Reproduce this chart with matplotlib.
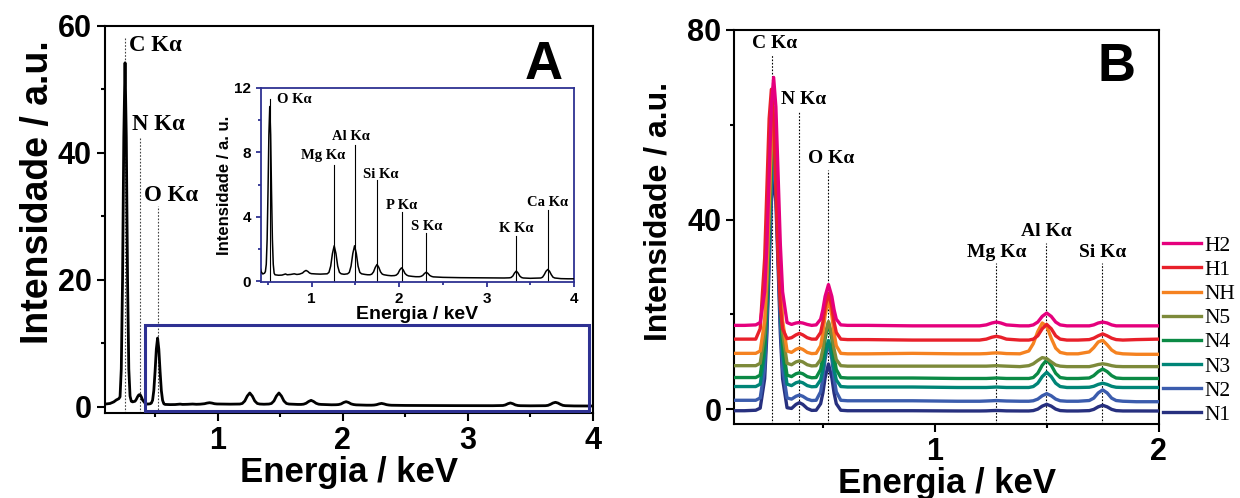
import matplotlib

matplotlib.use("Agg")
import matplotlib.pyplot as plt
from matplotlib.patches import Rectangle
from matplotlib.ticker import MultipleLocator
from matplotlib.lines import Line2D

plt.rcParams["font.family"] = ["Liberation Sans", "DejaVu Sans"]
plt.rcParams["font.weight"] = "bold"
plt.rcParams["axes.labelweight"] = "bold"
SERIF = ["Liberation Serif", "DejaVu Serif"]

# ---------------- panel A: EDS spectrum (main + inset use the same data)
energy_a = [
    0.10, 0.14, 0.17, 0.19, 0.21, 0.22, 0.23, 0.24, 0.25, 0.26,
    0.27, 0.28, 0.29, 0.30, 0.31, 0.32, 0.34, 0.35, 0.36, 0.37,
    0.38, 0.39, 0.40, 0.42, 0.44, 0.46, 0.47, 0.48, 0.49, 0.50,
    0.51, 0.52, 0.53, 0.54, 0.55, 0.56, 0.57, 0.58, 0.62, 0.66,
    0.70, 0.72, 0.76, 0.80, 0.83, 0.86, 0.875, 0.895, 0.915, 0.935,
    0.955, 0.975, 0.995, 1.05, 1.10, 1.15, 1.177, 1.197, 1.217, 1.237,
    1.257, 1.277, 1.297, 1.317, 1.337, 1.37, 1.41, 1.43, 1.45, 1.47,
    1.49, 1.51, 1.53, 1.55, 1.57, 1.61, 1.64, 1.667, 1.687, 1.707,
    1.727, 1.747, 1.767, 1.787, 1.807, 1.827, 1.87, 1.91, 1.947, 1.967,
    1.987, 2.007, 2.027, 2.047, 2.067, 2.087, 2.107, 2.15, 2.19, 2.23,
    2.25, 2.27, 2.29, 2.31, 2.33, 2.35, 2.37, 2.39, 2.5, 2.7,
    2.9, 3.1, 3.2, 3.26, 3.28, 3.30, 3.32, 3.34, 3.36, 3.38,
    3.40, 3.42, 3.5, 3.58, 3.62, 3.64, 3.66, 3.68, 3.70, 3.72,
    3.74, 3.76, 3.78, 3.85, 3.93, 4.0,
]
counts_a = [
    0.45, 0.55, 0.8, 1.1, 1.3, 1.6, 6.0, 20.0, 42.5, 54.2,
    42.5, 20.0, 6.0, 1.7, 0.9, 0.8, 0.9, 1.2, 1.6, 1.9,
    1.95, 1.6, 1.1, 0.6, 0.45, 0.5, 0.6, 1.05, 2.6, 5.6,
    9.1, 10.85, 9.1, 5.6, 2.6, 1.05, 0.5, 0.4, 0.37, 0.38,
    0.45, 0.4, 0.42, 0.46, 0.42, 0.44, 0.47, 0.51, 0.61, 0.67,
    0.61, 0.51, 0.47, 0.45, 0.44, 0.45, 0.46, 0.55, 0.94, 1.72,
    2.2, 1.72, 0.94, 0.55, 0.46, 0.43, 0.46, 0.55, 0.94, 1.72,
    2.2, 1.72, 0.94, 0.55, 0.46, 0.42, 0.4, 0.4, 0.44, 0.58,
    0.86, 1.04, 0.86, 0.58, 0.44, 0.4, 0.36, 0.34, 0.35, 0.38,
    0.48, 0.7, 0.83, 0.7, 0.48, 0.38, 0.33, 0.3, 0.28, 0.28,
    0.3, 0.36, 0.48, 0.56, 0.48, 0.36, 0.3, 0.27, 0.24, 0.22,
    0.21, 0.2, 0.2, 0.21, 0.23, 0.32, 0.51, 0.63, 0.51, 0.32,
    0.23, 0.2, 0.18, 0.19, 0.2, 0.25, 0.41, 0.62, 0.73, 0.62,
    0.41, 0.25, 0.2, 0.16, 0.15, 0.15,
]

# main panel A peak markers
lines_a_labels = ["C K\u03b1", "N K\u03b1", "O K\u03b1"]
lines_a_x = [0.26, 0.38, 0.52]
lines_a_top = [58.3, 42.4, 31.7]

# inset peak markers
lines_in_labels = ["O K\u03b1", "Mg K\u03b1", "Al K\u03b1", "Si K\u03b1",
                   "P K\u03b1", "S K\u03b1", "K K\u03b1", "Ca K\u03b1"]
lines_in_x = [0.521, 1.257, 1.49, 1.747, 2.027, 2.31, 3.34, 3.70]
lines_in_top = [11.3, 7.2, 8.45, 6.3, 4.3, 3.0, 2.8, 4.45]

# ---------------- panel B: spectra of the eight samples (stacked)
energy_b = [
    0.105, 0.15, 0.20, 0.22, 0.24, 0.25, 0.26, 0.27, 0.28, 0.29,
    0.30, 0.31, 0.32, 0.34, 0.36, 0.38, 0.395, 0.41, 0.43, 0.45,
    0.47, 0.49, 0.50, 0.51, 0.525, 0.54, 0.55, 0.56, 0.58, 0.61,
    0.70, 0.90, 1.10, 1.20, 1.23, 1.255, 1.275, 1.295, 1.32, 1.38,
    1.42, 1.44, 1.46, 1.48, 1.50, 1.52, 1.54, 1.56, 1.59, 1.64,
    1.69, 1.71, 1.73, 1.75, 1.77, 1.79, 1.81, 1.84, 1.90, 2.0,
]
h2 = [
    17.7, 17.7, 17.8, 18.3, 24.8, 34.7, 49.4, 63.8, 70.0, 63.8,
    49.4, 34.7, 24.8, 18.3, 17.9, 18.2, 18.3, 18.2, 17.9, 17.7,
    17.8, 19.0, 21.0, 23.8, 26.3, 23.8, 21.0, 19.0, 17.8, 17.7,
    17.7, 17.6, 17.6, 17.6, 17.8, 18.2, 18.4, 18.2, 17.8, 17.6,
    17.6, 17.8, 18.4, 19.6, 20.3, 19.6, 18.4, 17.8, 17.6, 17.6,
    17.6, 17.8, 18.2, 18.4, 18.2, 17.8, 17.6, 17.6, 17.6, 17.6,
]
h1 = [
    14.8, 14.8, 14.8, 17.0, 31.9, 46.7, 61.3, 67.5, 61.3, 46.7,
    31.9, 21.8, 17.0, 14.9, 15.1, 15.7, 16.0, 15.7, 15.1, 14.8,
    14.8, 16.2, 18.4, 21.6, 24.5, 21.6, 18.4, 16.2, 14.8, 14.7,
    14.7, 14.6, 14.6, 14.6, 14.8, 15.2, 15.4, 15.2, 14.8, 14.6,
    14.6, 14.8, 15.5, 17.0, 17.9, 17.0, 15.5, 14.8, 14.6, 14.6,
    14.7, 15.0, 15.5, 15.9, 15.5, 15.0, 14.7, 14.6, 14.7, 14.8,
]
nh = [
    11.8, 11.8, 11.8, 12.3, 18.7, 28.6, 43.3, 57.6, 63.7, 57.6,
    43.3, 28.6, 18.7, 12.3, 12.0, 12.65, 12.9, 12.65, 12.0, 11.75,
    11.8, 13.4, 16.1, 19.8, 23.2, 19.8, 16.1, 13.4, 11.8, 11.7,
    11.7, 11.8, 11.7, 11.7, 11.75, 11.85, 11.9, 11.85, 11.75, 11.7,
    12.3, 13.85, 16.4, 18.2, 17.5, 15.0, 12.9, 12.0, 11.7, 11.7,
    12.1, 13.0, 14.2, 14.55, 13.6, 12.5, 11.9, 11.7, 11.6, 11.6,
]
n5 = [
    9.2, 9.2, 9.2, 9.7, 16.1, 26.0, 40.7, 55.0, 61.1, 55.0,
    40.7, 26.0, 16.1, 9.7, 9.4, 10.0, 10.2, 10.0, 9.4, 9.15,
    9.2, 10.5, 12.7, 15.75, 18.5, 15.75, 12.7, 10.5, 9.2, 9.1,
    9.1, 9.1, 9.1, 9.1, 9.1, 9.15, 9.2, 9.15, 9.1, 9.0,
    9.2, 9.6, 10.3, 10.9, 10.7, 10.0, 9.35, 9.1, 9.0, 9.0,
    9.0, 9.2, 9.45, 9.6, 9.45, 9.2, 9.05, 9.0, 9.0, 9.0,
]
n4 = [
    6.7, 6.7, 6.7, 7.2, 13.6, 23.5, 38.2, 52.5, 58.6, 52.5,
    38.2, 23.5, 13.6, 7.2, 6.9, 7.5, 7.7, 7.5, 6.9, 6.65,
    6.7, 8.4, 11.05, 14.9, 18.3, 14.9, 11.05, 8.4, 6.7, 6.6,
    6.6, 6.6, 6.5, 6.5, 6.5, 6.55, 6.6, 6.55, 6.5, 6.5,
    6.5, 6.7, 7.6, 9.3, 10.4, 9.3, 7.6, 6.7, 6.5, 6.5,
    6.6, 7.1, 7.95, 8.5, 7.95, 7.1, 6.6, 6.5, 6.5, 6.5,
]
n3 = [
    4.8, 4.8, 4.8, 5.3, 11.7, 21.6, 36.3, 50.6, 56.7, 50.6,
    36.3, 21.6, 11.7, 5.3, 5.0, 5.6, 5.8, 5.6, 5.0, 4.75,
    4.8, 6.2, 8.4, 11.6, 14.5, 11.6, 8.4, 6.2, 4.8, 4.7,
    4.7, 4.7, 4.6, 4.6, 4.6, 4.65, 4.7, 4.65, 4.6, 4.6,
    4.6, 4.8, 5.5, 6.9, 7.8, 6.9, 5.5, 4.8, 4.6, 4.6,
    4.65, 4.85, 5.25, 5.5, 5.25, 4.85, 4.65, 4.6, 4.6, 4.6,
]
n2 = [
    1.9, 1.9, 1.9, 2.4, 8.7, 18.4, 32.8, 46.8, 52.8, 46.8,
    32.8, 18.4, 8.7, 2.4, 2.15, 2.75, 3.0, 2.75, 2.15, 1.85,
    1.9, 3.7, 6.55, 10.6, 14.3, 10.6, 6.55, 3.7, 1.9, 1.8,
    1.8, 1.8, 1.7, 1.7, 1.75, 1.8, 1.85, 1.8, 1.75, 1.7,
    1.7, 1.8, 2.15, 2.85, 3.3, 2.85, 2.15, 1.8, 1.7, 1.7,
    1.85, 2.35, 3.45, 4.1, 3.45, 2.35, 1.85, 1.7, 1.6, 1.6,
]
n1 = [
    -0.3, -0.3, -0.2, 0.25, 6.45, 15.95, 30.05, 43.8, 49.7, 43.8,
    30.05, 15.95, 6.45, 0.33, 0.18, 1.04, 1.4, 1.04, 0.18, -0.23,
    -0.2, 1.18, 3.44, 6.66, 9.55, 6.66, 3.44, 1.18, -0.2, -0.3,
    -0.3, -0.3, -0.35, -0.35, -0.33, -0.28, -0.25, -0.28, -0.33, -0.35,
    -0.35, -0.27, 0.04, 0.67, 1.05, 0.67, 0.04, -0.27, -0.35, -0.35,
    -0.28, -0.02, 0.52, 0.85, 0.52, -0.02, -0.28, -0.35, -0.35, -0.36,
]
samples_b = ["N1", "N2", "N3", "N4", "N5", "NH", "H1", "H2"]
series_b = [n1, n2, n3, n4, n5, nh, h1, h2]
colors_b = ["#27307f", "#3b5cad", "#008577", "#0b8a45", "#7d8a3a",
            "#f58220", "#e8202a", "#e5007d"]

lines_b_labels = ["C K\u03b1", "N K\u03b1", "O K\u03b1", "Mg K\u03b1", "Al K\u03b1", "Si K\u03b1"]
lines_b_x = [0.272, 0.394, 0.525, 1.274, 1.496, 1.749]
lines_b_top = [74.7, 62.8, 50.5, 30.8, 35.1, 30.8]

NAVY = "#2e3192"

fig = plt.figure(figsize=(12.4, 4.98), dpi=100)
axA = fig.add_axes([0.0847, 0.1707, 0.3935, 0.7771])
axB = fig.add_axes([0.5923, 0.1486, 0.3421, 0.7912])
axI = fig.add_axes([0.2105, 0.4337, 0.2524, 0.3896])


def style_axis(ax, lw=1.5, size=22, major=6, minor=3):
    for s in ax.spines.values():
        s.set_linewidth(lw)
    ax.tick_params(which="both", direction="out", width=lw, labelsize=size,
                   top=False, right=False)
    ax.tick_params(which="major", length=major)
    ax.tick_params(which="minor", length=minor)


# ----- panel A main
axA.plot(energy_a, counts_a, color="black", lw=2.0, zorder=3)
for x, top in zip(lines_a_x, lines_a_top):
    axA.plot([x, x], [-1, top], color="#444444", lw=0.8, ls=(0, (1.5, 1.5)), zorder=2)
text_a_pos = [(0.29, 57.0), (0.315, 44.5), (0.41, 33.3)]
for lab, (tx, ty) in zip(lines_a_labels, text_a_pos):
    axA.text(tx, ty, lab, family=SERIF, fontsize=16.5, weight="bold",
             ha="left", va="center")
axA.add_patch(Rectangle((0.42, -0.7), 3.55, 13.6, fill=False, edgecolor=NAVY,
                        lw=2.2, zorder=4))
axA.set_xlim(0.1, 4.0)
axA.set_ylim(-0.95, 60)
axA.xaxis.set_major_locator(MultipleLocator(1))
axA.xaxis.set_minor_locator(MultipleLocator(0.5))
axA.yaxis.set_major_locator(MultipleLocator(20))
axA.yaxis.set_minor_locator(MultipleLocator(10))
style_axis(axA)
axA.set_xlabel("Energia / keV", fontsize=25, labelpad=0)
axA.set_ylabel("Intensidade / a.u.", fontsize=27, va="center")
axA.yaxis.set_label_coords(-0.137, 0.57)
axA.text(0.90, 0.90, "A", transform=axA.transAxes, fontsize=38, weight="bold",
         ha="center", va="center")

# ----- inset
axI.set_facecolor("white")
axI.plot(energy_a, counts_a, color="black", lw=1.1, zorder=3)
for x, top in zip(lines_in_x, lines_in_top):
    axI.plot([x, x], [-0.1, top], color="black", lw=0.8, zorder=2)
inset_text_pos = [(0.60, 11.3, "left"), (1.134, 7.8, "center"), (1.448, 8.97, "center"),
                  (1.785, 6.64, "center"), (2.027, 4.7, "center"), (2.31, 3.4, "center"),
                  (3.34, 3.28, "center"), (3.70, 4.9, "center")]
for lab, (tx, ty, ha) in zip(lines_in_labels, inset_text_pos):
    axI.text(tx, ty, lab, family=SERIF, fontsize=10.5, weight="bold", ha=ha, va="center")
axI.set_xlim(0.42, 4.0)
axI.set_ylim(-0.05, 12)
axI.xaxis.set_major_locator(MultipleLocator(1))
axI.xaxis.set_minor_locator(MultipleLocator(0.5))
axI.yaxis.set_major_locator(MultipleLocator(4))
axI.yaxis.set_minor_locator(MultipleLocator(2))
style_axis(axI, lw=1.3, size=11, major=3.5, minor=2)
for s in axI.spines.values():
    s.set_edgecolor(NAVY)
axI.tick_params(which="both", color=NAVY)
axI.set_xlabel("Energia / keV", fontsize=14, labelpad=0)
axI.set_ylabel("Intensidade / a. u.", fontsize=12, labelpad=2)

# ----- panel B
for name, ys, c in zip(samples_b, series_b, colors_b):
    axB.plot(energy_b, ys, color=c, lw=2.4, label=name, zorder=3)
for x, top in zip(lines_b_x, lines_b_top):
    axB.plot([x, x], [-3.1, top], color="black", lw=0.8, ls=(0, (1.5, 1.5)), zorder=2)
text_b_pos = [(0.286, 77.2), (0.414, 65.3), (0.535, 52.8), (1.277, 33.0),
              (1.50, 37.6), (1.751, 33.1)]
for lab, (tx, ty) in zip(lines_b_labels, text_b_pos):
    axB.text(tx, ty, lab, family=SERIF, fontsize=14, weight="bold", ha="center",
             va="center", zorder=5)
axB.set_xlim(0.105, 2.0)
axB.set_ylim(-3.1, 80)
axB.xaxis.set_major_locator(MultipleLocator(1))
axB.xaxis.set_minor_locator(MultipleLocator(0.5))
axB.yaxis.set_major_locator(MultipleLocator(40))
axB.yaxis.set_minor_locator(MultipleLocator(20))
style_axis(axB)
axB.set_xlabel("Energia / keV", fontsize=25, labelpad=0)
axB.set_ylabel("Intensidade / a.u.", fontsize=23, va="center")
axB.yaxis.set_label_coords(-0.18, 0.54)
axB.text(0.90, 0.905, "B", transform=axB.transAxes, fontsize=38, weight="bold",
         ha="center", va="center")

handles = [Line2D([], [], color=c, lw=2.4) for c in colors_b][::-1]
leg = axB.legend(handles, samples_b[::-1], loc="upper left",
                 bbox_to_anchor=(1.01, 0.478), frameon=False, borderaxespad=0,
                 borderpad=0, handlelength=1.75, handletextpad=0.2,
                 labelspacing=0.19, prop={"family": SERIF, "size": 15.5, "weight": "normal"})

fig.savefig("out.png", dpi=100)
